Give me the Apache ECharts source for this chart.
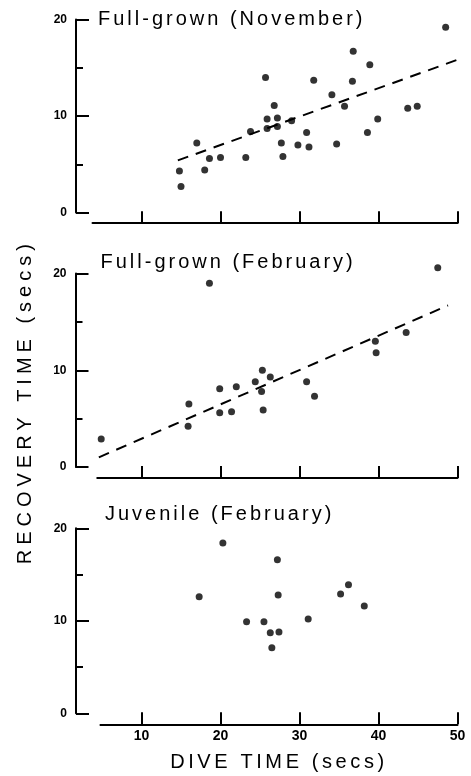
<!DOCTYPE html>
<html><head><meta charset="utf-8">
<script src="https://cdn.jsdelivr.net/npm/echarts@6/dist/echarts.min.js"></script>
<style>html,body{margin:0;padding:0;background:#fff}#chart{width:471px;height:776px}</style>
</head><body><div id="chart"></div>
<script>
// ---- data ----
const panelTitles = ['Full-grown (November)', 'Full-grown (February)', 'Juvenile (February)'];
const xTickValues = [10, 20, 30, 40, 50];
const xAxisName = 'DIVE TIME (secs)';
const yAxisName = 'RECOVERY TIME (secs)';

const novDive     = [14.8, 15.0, 17.0, 18.0, 18.6, 20.0, 23.2, 23.8, 25.7, 25.9, 25.9, 26.8, 27.2, 27.2, 27.7, 27.9, 29.0, 29.8, 30.9, 31.2, 31.8, 34.1, 34.7, 35.7, 36.7, 36.8, 38.6, 38.9, 39.9, 43.7, 44.9, 48.5];
const novRecovery = [4.3, 2.7, 7.2, 4.4, 5.6, 5.7, 5.7, 8.4, 14.0, 9.7, 8.7, 11.1, 9.8, 8.9, 7.2, 5.8, 9.5, 7.0, 8.3, 6.8, 13.7, 12.2, 7.1, 11.0, 13.6, 16.7, 8.3, 15.3, 9.7, 10.8, 11.0, 19.2];
const novTrendDive     = [14.6, 49.9];
const novTrendRecovery = [5.4, 15.8];

const febDive     = [4.9, 16.0, 15.9, 18.6, 19.9, 19.9, 21.4, 22.0, 24.4, 25.3, 25.2, 25.4, 26.3, 30.9, 31.9, 39.6, 39.7, 43.5, 47.5];
const febRecovery = [2.9, 6.5, 4.2, 19.0, 8.1, 5.6, 5.7, 8.3, 8.8, 10.0, 7.8, 5.9, 9.3, 8.8, 7.3, 13.0, 11.8, 13.9, 20.6];
const febTrendDive     = [4.6, 48.8];
const febTrendRecovery = [1.0, 16.7];

const juvDive     = [17.3, 20.3, 23.3, 25.5, 26.3, 26.5, 27.2, 27.3, 27.4, 31.1, 35.2, 36.2, 38.2];
const juvRecovery = [12.6, 18.4, 9.9, 9.9, 8.7, 7.1, 16.6, 12.8, 8.8, 10.2, 12.9, 13.9, 11.6];

// ---- wide tracking of the big lettering only (canvas letterSpacing) ----
const spacing = {};
panelTitles.forEach(t => { spacing[t] = 3; });
spacing[xAxisName] = 3.6;
spacing[yAxisName] = 5;
function refreshFont(ctx) {
  const f = ctx.font;
  ctx.font = '10px serif';
  ctx.font = f;
}
(function () {
  const proto = CanvasRenderingContext2D.prototype;
  ['fillText', 'strokeText'].forEach(fn => {
    const orig = proto[fn];
    proto[fn] = function (t, x, y, m) {
      const args = m === undefined ? [t, x, y] : [t, x, y, m];
      if (Object.prototype.hasOwnProperty.call(spacing, t) && 'letterSpacing' in this) {
        let r;
        this.save();
        try {
          this.letterSpacing = spacing[t] + 'px';
          refreshFont(this);
          r = orig.apply(this, args);
        } finally {
          this.letterSpacing = '0px';
          refreshFont(this);
          this.restore();
          this.letterSpacing = '0px';
          refreshFont(this);
        }
        return r;
      }
      if ('letterSpacing' in this && this.letterSpacing !== '0px') {
        this.letterSpacing = '0px';
        refreshFont(this);
      }
      return orig.apply(this, args);
    };
  });
})();

// ---- layout ----
const pxPerSec = 7.9, x10 = 141.5, xMax = 50;
const panels = [
  {xMin: 3.8, top: 19.5,  height: 193,   xOff: 10.7, yLine: 76,   titleLeft: 98,    titleTop: 9},
  {xMin: 4.4, top: 273.5, height: 193.5, xOff: 11,   yLine: 75.5, titleLeft: 100.5, titleTop: 252.5},
  {xMin: 4.8, top: 528.3, height: 185,   xOff: 11,   yLine: 76,   titleLeft: 105,   titleTop: 504.5}
];
const FONT = 'Liberation Sans, Arial, sans-serif';
const pairs = (xs, ys) => xs.map((x, i) => [x, ys[i]]);

const grids = [], xAxes = [], yAxes = [], titles = [];
panels.forEach((p, i) => {
  const left = x10 - (10 - p.xMin) * pxPerSec;
  grids.push({left: left, top: p.top, width: (xMax - p.xMin) * pxPerSec, height: p.height,
    containLabel: false, outerBoundsMode: 'none'});
  xAxes.push({
    type: 'value', gridIndex: i, min: p.xMin, max: xMax, offset: p.xOff,
    axisLine: {show: true, onZero: false, lineStyle: {color: '#000', width: 2}},
    axisTick: {show: true, inside: true, length: 12, lineStyle: {color: '#000', width: 2}, customValues: xTickValues},
    axisLabel: {show: i === 2, customValues: xTickValues, color: '#000', fontFamily: FONT, fontWeight: 'bold', fontSize: 14, margin: 5},
    splitLine: {show: false},
    name: i === 2 ? xAxisName : '', nameLocation: 'middle', nameGap: 28,
    nameTextStyle: {color: '#000', fontFamily: FONT, fontSize: 20}
  });
  yAxes.push({
    type: 'value', gridIndex: i, min: 0, max: 20, interval: 10, offset: left - p.yLine,
    axisLine: {show: true, onZero: false, lineStyle: {color: '#000', width: 2}},
    axisTick: {show: true, inside: true, length: 13, lineStyle: {color: '#000', width: 2}},
    minorTick: {show: true, splitNumber: 2, length: 7, lineStyle: {color: '#000', width: 2}},
    minorSplitLine: {show: false},
    axisLabel: {color: '#000', fontFamily: FONT, fontWeight: 'bold', fontSize: 12, margin: 9},
    splitLine: {show: false}
  });
  titles.push({text: panelTitles[i], left: p.titleLeft, top: p.titleTop, padding: 0,
    textStyle: {color: '#000', fontFamily: FONT, fontSize: 20, fontWeight: 'normal'}});
});

const dot = {symbol: 'circle', symbolSize: 7, itemStyle: {color: '#000'}, clip: false};
const dash = {showSymbol: false, symbol: 'none', lineStyle: {color: '#000', width: 2, type: [11, 8]}, clip: false};
const series = [
  Object.assign({type: 'scatter', xAxisIndex: 0, yAxisIndex: 0, data: pairs(novDive, novRecovery)}, dot),
  Object.assign({type: 'line', xAxisIndex: 0, yAxisIndex: 0, data: pairs(novTrendDive, novTrendRecovery)}, dash),
  Object.assign({type: 'scatter', xAxisIndex: 1, yAxisIndex: 1, data: pairs(febDive, febRecovery)}, dot),
  Object.assign({type: 'line', xAxisIndex: 1, yAxisIndex: 1, data: pairs(febTrendDive, febTrendRecovery)}, dash),
  Object.assign({type: 'scatter', xAxisIndex: 2, yAxisIndex: 2, data: pairs(juvDive, juvRecovery)}, dot)
];

const chart = echarts.init(document.getElementById('chart'));
chart.setOption({
  animation: false,
  backgroundColor: '#fff',
  title: titles,
  grid: grids, xAxis: xAxes, yAxis: yAxes,
  graphic: [{
    type: 'text', x: 25.5, y: 401.7, rotation: Math.PI / 2,
    style: {text: yAxisName, fill: '#000', font: '20px ' + FONT, textAlign: 'center', textVerticalAlign: 'middle', verticalAlign: 'middle'}
  }],
  series: series
});
</script></body></html>
